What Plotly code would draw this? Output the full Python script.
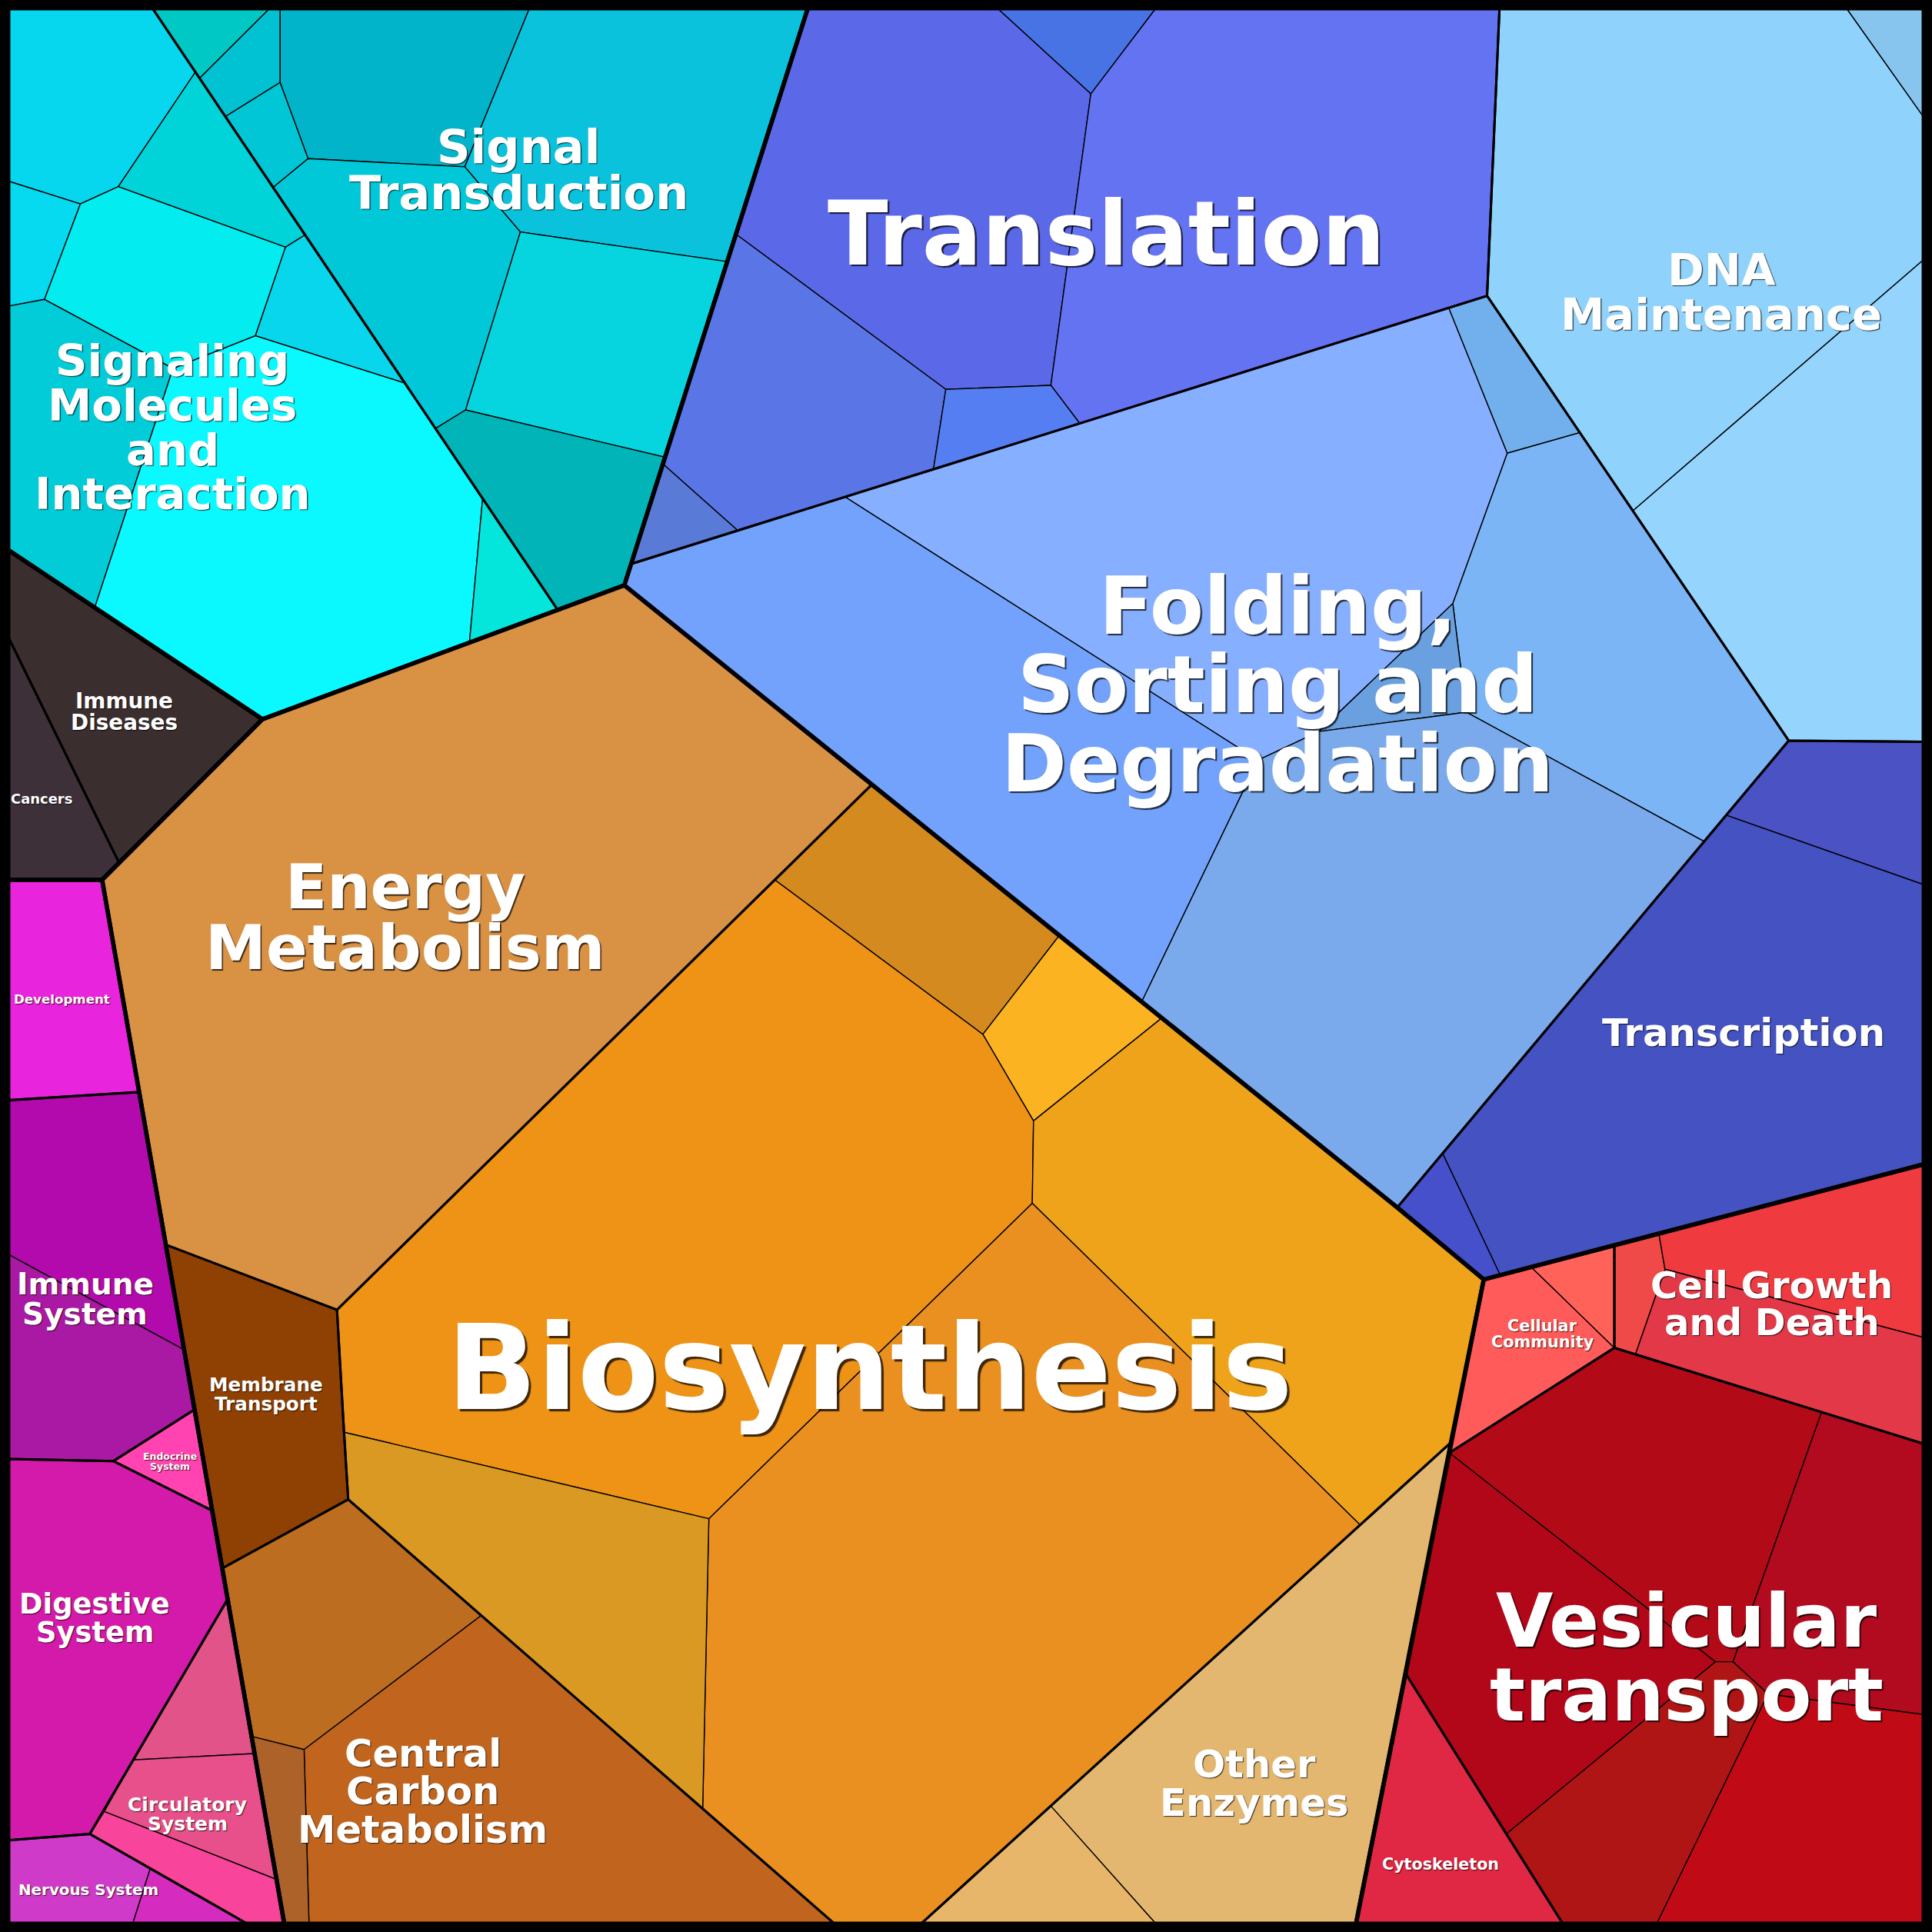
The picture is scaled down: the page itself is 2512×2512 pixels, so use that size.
import plotly.graph_objects as go

L, T, R, B = 6.7, 6.7, 1561.3, 1561.3

# shared cell vertices (chart units, origin top-left)
V = {
 'c_tl': (L, T), 'c_tr': (R, T), 'c_br': (R, B), 'c_bl': (L, B),
 't1': (123.7, T), 't2': (219, T), 't3': (227.4, T), 't4': (429.7, T), 't5': (655.6, T),
 't6': (809.4, T), 't7': (938.1, T), 't8': (1217, T), 't9': (1498.5, T),
 'r1': (R, 95.3), 'r2': (R, 210.7), 'r3': (R, 602), 'r4': (R, 718), 'r5': (R, 944.9),
 'r6': (R, 1085.5), 'r7': (R, 1171.8), 'r8': (R, 1391.5),
 'b1': (200.6, B), 'b2': (107.7, B), 'b3': (230.7, B), 'b4': (250.8, B), 'b5': (677.3, B),
 'b6': (747.5, B), 'b7': (938.1, B), 'b8': (1100.5, B), 'b9': (1268.4, B), 'b10': (1344.6, B),
 'l1': (L, 147), 'l2': (L, 248.5), 'l3': (L, 446.4), 'l4': (L, 517), 'l5': (L, 714.1),
 'l6': (L, 893), 'l7': (L, 1018), 'l8': (L, 1184.1), 'l9': (L, 1493.5),
 's1': (158.6, 58.5), 's2': (96, 151.5), 's3': (65.2, 165.5), 's4': (36.1, 243), 's5': (231.7, 200.6),
 's6': (247.6, 190.6), 's7': (207.3, 272.5), 's8': (140.4, 299), 's9': (328.7, 311), 's10': (391.7, 404.6),
 's11': (381, 521.5), 's12': (452.6, 495.0), 's13': (76.9, 493.1), 's14': (213, 583.7),
 'd1': (162, 63.5), 'd2': (182.9, 94.6), 'd3': (221.6, 152.1), 'd4': (353.5, 347.8),
 'u1': (227.4, 66.9), 'u2': (250.1, 128.7), 'u3': (377.2, 135.4), 'u4': (422.3, 188.3),
 'u5': (590, 212.3), 'u6': (377.9, 332.7), 'u7': (539.4, 371),
 'J1': (512.2, 457.7), 'J2': (506.7, 475),
 'y1': (885.3, 76.2), 'y2': (852.9, 312.7), 'y3': (767.6, 316), 'y4': (597.1, 189.9),
 'y5': (876.3, 343.6), 'y6': (757.6, 380.7), 'y7': (598.7, 430.5), 'y8': (537.7, 376.2),
 'p1': (1206.9, 240.1), 'q1': (1451.7, 601.1), 'z1': (1325.2, 414.6),
 'a1': (685.7, 403.2), 'a2': (1175.8, 249.8), 'a3': (1223.3, 367.8), 'a4': (1179.1, 489.9),
 'a5': (1070.5, 593.7), 'P': (1021, 617), 'a6': (926.4, 813.5), 'a7': (1282.2, 351.1),
 'a8': (1383.1, 682.9), 'Q': (1190, 578), 'a9': (1401, 661.6), 'a10': (1217.6, 1034.9), 'a11': (1170.8, 936.1),
 'g1': (1134, 980), 'g2': (1204.2, 1038.4), 'g3': (1177.5, 1170.8),
 'e1': (707.4, 636.9), 'e2': (628.8, 714.1), 'e3': (273.5, 1063.1), 'e4': (279.2, 1162.4), 'e5': (282.6, 1216.9),
 'f1': (859.5, 759.5), 'f2': (797.7, 839.5), 'f3': (942.5, 826.5), 'f4': (838.8, 909.7),
 'f5': (837.8, 976.6), 'f6': (575.3, 1232.6),
 'h1': (1103.9, 1237.6), 'o1': (852.8, 1465.7), 'i1': (570.3, 1467.9), 'i2': (390.6, 1311.1), 'j1': (246.8, 1419.9),
 'k0': (82.9, 714.1), 'k1': (112.9, 886.3), 'k2': (134.6, 1010.2), 'k3': (149.5, 1095.5), 'k4': (157.9, 1144),
 'k5': (172.2, 1226), 'k6': (180.4, 1272.8), 'k7': (184.8, 1297.8), 'k8': (206.6, 1423.2),
 'k9': (204.1, 1409.2), 'k10': (224.5, 1525.4),
 'n1': (96.5, 700),
 'm1': (92, 1185.8), 'm2': (72.9, 1488.4), 'm3': (108.2, 1428.3), 'm4': (84.6, 1470.2), 'm5': (122, 1516.4),
 'x1': (1242.7, 1028.3), 'x2': (1310.2, 1010.6), 'x3': (1346.3, 1001.2), 'x4': (1310.2, 1093.9),
 'x5': (1351.3, 1030.1), 'x6': (1327.3, 1099.2),
 'w1': (1140.6, 1358), 'w2': (1176.3, 1179.1),
 'v1': (1478.4, 1146.1), 'v2': (1406.5, 1348.7), 'v3': (1392.2, 1348.7), 'v4': (1434.9, 1374.8), 'v5': (1222.6, 1488.4),
}

# leaf cells: (category, colour, vertices)
cells = [
 # Signaling Molecules and Interaction
 ('SMI', '#07D7EE', ['c_tl', 't1', 's1', 's2', 's3', 'l1']),
 ('SMI', '#00D4D8', ['s2', 's1', 's6', 's5']),
 ('SMI', '#05DAF0', ['l1', 's3', 's4', 'l2']),
 ('SMI', '#03ECF0', ['s3', 's2', 's5', 's7', 's8', 's4']),
 ('SMI', '#08D6EC', ['s5', 's6', 's9', 's7']),
 ('SMI', '#02CCD8', ['l2', 's4', 's8', 's13', 'l3']),
 ('SMI', '#0AF8FF', ['s8', 's7', 's9', 's10', 's11', 's14', 's13']),
 ('SMI', '#04E6DC', ['s10', 's12', 's11']),
 # Signal Transduction
 ('ST', '#00C8C4', ['t1', 't2', 'd1']),
 ('ST', '#00C2D2', ['d1', 't2', 't3', 'u1', 'd2']),
 ('ST', '#00C6D6', ['d2', 'u1', 'u2', 'd3']),
 ('ST', '#02B4CA', ['t3', 't4', 'u3', 'u2', 'u1']),
 ('ST', '#0AC2DC', ['t4', 't5', 'u5', 'u4', 'u3']),
 ('ST', '#00C8D8', ['d3', 'u2', 'u3', 'u4', 'u6', 'd4']),
 ('ST', '#06D5E0', ['u4', 'u5', 'u7', 'u6']),
 ('ST', '#00B4B8', ['d4', 'u6', 'u7', 'J1', 'J2', 's12']),
 # Translation
 ('TL', '#4873E5', ['t6', 't7', 'y1']),
 ('TL', '#5B68E8', ['t5', 't6', 'y1', 'y2', 'y3', 'y4']),
 ('TL', '#6473F2', ['y1', 't7', 't8', 'p1', 'y5', 'y2']),
 ('TL', '#5A75E6', ['y4', 'y3', 'y6', 'y7', 'y8']),
 ('TL', '#567EF3', ['y3', 'y2', 'y5', 'y6']),
 ('TL', '#5A7AD8', ['y8', 'y7', 'J1']),
 # DNA Maintenance
 ('DNA', '#87C4EE', ['t9', 'c_tr', 'r1']),
 ('DNA', '#8FD3FC', ['t8', 't9', 'r1', 'r2', 'z1', 'p1']),
 ('DNA', '#94D4FD', ['z1', 'r2', 'r3', 'q1']),
 # Folding, Sorting and Degradation
 ('FSD', '#86AFFF', ['a1', 'a2', 'a3', 'a4', 'a5', 'P']),
 ('FSD', '#72A2FB', ['J1', 'a1', 'P', 'a6', 'J2']),
 ('FSD', '#71B0EC', ['a2', 'p1', 'a7', 'a3']),
 ('FSD', '#7BB5F5', ['a3', 'a7', 'q1', 'a8', 'Q', 'a4']),
 ('FSD', '#6AA0E0', ['a4', 'Q', 'a5']),
 ('FSD', '#7AAAEB', ['P', 'a5', 'Q', 'a8', 'g1', 'a6']),
 # Transcription
 ('TR', '#4B52C3', ['q1', 'r3', 'r4', 'a9']),
 ('TR', '#4452C2', ['a9', 'r4', 'r5', 'a10', 'a11']),
 ('TR', '#4550CA', ['g1', 'a11', 'a10', 'g2']),
 # Energy Metabolism / Membrane Transport
 ('EM', '#D99144', ['k0', 's14', 'J2', 'e1', 'e3', 'k2']),
 ('MT', '#8F4103', ['k2', 'e3', 'e4', 'e5', 'k6']),
 # Biosynthesis
 ('BIO', '#D48A1E', ['e2', 'e1', 'f1', 'f2']),
 ('BIO', '#FCB322', ['f2', 'f1', 'f3', 'f4']),
 ('BIO', '#EE9316', ['e3', 'e2', 'f2', 'f4', 'f5', 'f6', 'e4']),
 ('BIO', '#EEA31A', ['f4', 'f3', 'g1', 'g2', 'g3', 'h1', 'f5']),
 ('BIO', '#EA9020', ['f6', 'f5', 'h1', 'b6', 'b5', 'i1']),
 ('BIO', '#DA9922', ['e4', 'f6', 'i1', 'e5']),
 # Central Carbon Metabolism
 ('CCM', '#BC6D20', ['k6', 'e5', 'i2', 'j1', 'k9']),
 ('CCM', '#C1651E', ['j1', 'i2', 'b5', 'b4']),
 ('CCM', '#AD6229', ['k9', 'j1', 'b4', 'b3']),
 # Other Enzymes
 ('OE', '#E4B770', ['g3', 'b8', 'b7', 'o1', 'h1']),
 ('OE', '#E8B66A', ['o1', 'b7', 'b6']),
 # Human diseases
 ('ID', '#3A2E2E', ['l3', 's13', 's14', 'n1', 'l4']),
 ('CA', '#3D3039', ['l4', 'n1', 'k0', 'l5']),
 # Organismal systems
 ('DEV', '#E824DD', ['l5', 'k0', 'k1', 'l6']),
 ('IS', '#B20AAD', ['l6', 'k1', 'k3', 'l7']),
 ('IS', '#AA19A3', ['l7', 'k3', 'k4', 'm1', 'l8']),
 ('ES', '#FF44B2', ['m1', 'k4', 'k5']),
 ('DS', '#D41AAA', ['l8', 'm1', 'k5', 'k7', 'm2', 'l9']),
 ('CS', '#E2538A', ['k7', 'k8', 'm3']),
 ('CS', '#E7508A', ['m3', 'k8', 'k10', 'm4']),
 ('CS', '#F8449A', ['m4', 'k10', 'b3', 'b1', 'm2']),
 ('NS', '#CF3AC8', ['l9', 'm2', 'm5', 'b2', 'c_bl']),
 ('NS', '#D52BBE', ['m5', 'b1', 'b2']),
 # Cellular processes
 ('CC', '#FF5B5B', ['g2', 'x1', 'x4', 'w2']),
 ('CC', '#FF6259', ['x1', 'x2', 'x4']),
 ('CGD', '#F04A48', ['x2', 'x3', 'x5', 'x6', 'x4']),
 ('CGD', '#EF3A40', ['x3', 'r5', 'r6', 'x5']),
 ('CGD', '#E23848', ['x5', 'r6', 'r7', 'x6']),
 ('VT', '#B30A18', ['w2', 'x4', 'v1', 'v2', 'v3']),
 ('VT', '#B20A1E', ['v1', 'r7', 'r8', 'v4', 'v2']),
 ('VT', '#B20619', ['w2', 'v3', 'v5', 'w1']),
 ('VT', '#B01515', ['v3', 'v2', 'v4', 'b10', 'b9', 'v5']),
 ('VT', '#C00B16', ['v4', 'r8', 'c_br', 'b10']),
 ('CY', '#E02744', ['w1', 'b9', 'b8']),
]

# second-level category outlines
categories = {
 'SMI': ['c_tl', 't1', 's12', 's14', 's13', 'l3'],
 'ST': ['t1', 't5', 'J1', 'J2', 's12'],
 'TL': ['t5', 't8', 'p1', 'J1'],
 'DNA': ['t8', 'c_tr', 'r3', 'q1', 'p1'],
 'FSD': ['J1', 'p1', 'q1', 'g1', 'J2'],
 'TR': ['q1', 'r3', 'r5', 'g2', 'g1'],
 'EM': ['k0', 's14', 'J2', 'e1', 'e3', 'k2'],
 'MT': ['k2', 'e3', 'e4', 'e5', 'k6'],
 'BIO': ['e3', 'e1', 'g1', 'g2', 'g3', 'b6', 'b5', 'e5', 'e4'],
 'CCM': ['k6', 'e5', 'b5', 'b3'],
 'OE': ['g3', 'b8', 'b6'],
 'ID': ['l3', 's13', 's14', 'n1', 'l4'],
 'CA': ['l4', 'n1', 'k0', 'l5'],
 'DEV': ['l5', 'k0', 'k1', 'l6'],
 'IS': ['l6', 'k1', 'k4', 'm1', 'l8'],
 'ES': ['m1', 'k4', 'k5'],
 'DS': ['l8', 'm1', 'k5', 'k7', 'm2', 'l9'],
 'CS': ['k7', 'b3', 'b1', 'm2'],
 'NS': ['l9', 'm2', 'b1', 'c_bl'],
 'CC': ['g2', 'x2', 'x4', 'w2'],
 'CGD': ['x2', 'r5', 'r7', 'x4'],
 'VT': ['w2', 'x4', 'r7', 'c_br', 'b9', 'w1'],
 'CY': ['w1', 'b9', 'b8'],
}

# top-level outlines
top_levels = [
 ['c_tl', 't5', 'J1', 'J2', 's14', 's13', 'l3'],
 ['t5', 'c_tr', 'r5', 'g2', 'g1', 'J2', 'J1'],
 ['s14', 'J2', 'g1', 'g2', 'g3', 'b8', 'b3', 'k0'],
 ['l3', 's13', 's14', 'k0', 'l5'],
 ['l5', 'k0', 'b3', 'c_bl'],
 ['g2', 'r5', 'c_br', 'b8'],
]

# labels: lines, centre x, first-line y, font size (chart units)
labels = [
 (['Signal', 'Transduction'], 421, 119, 37.8),
 (['Translation'], 898, 190, 72),
 (['DNA', 'Maintenance'], 1397, 219, 36),
 (['Signaling', 'Molecules', 'and', 'Interaction'], 140, 293, 36),
 (['Folding,', 'Sorting and', 'Degradation'], 1037, 492, 64),
 (['Transcription'], 1415, 838, 31),
 (['Energy', 'Metabolism'], 329, 720, 49.5),
 (['Biosynthesis'], 706, 1110, 96),
 (['Immune', 'Diseases'], 101, 569, 17.4),
 (['Cancers'], 34, 648, 11.2),
 (['Development'], 50, 811, 10.4),
 (['Immune', 'System'], 69, 1042, 24.4),
 (['Endocrine', 'System'], 138, 1182, 7.8),
 (['Digestive', 'System'], 77, 1302, 23),
 (['Circulatory', 'System'], 152, 1465, 15.6),
 (['Nervous System'], 72, 1534, 12.4),
 (['Membrane', 'Transport'], 216, 1124, 15.4),
 (['Central', 'Carbon', 'Metabolism'], 343, 1423, 31),
 (['Other', 'Enzymes'], 1018, 1432, 31),
 (['Cellular', 'Community'], 1252, 1076, 13),
 (['Cell Growth', 'and Death'], 1438, 1043, 30),
 (['Vesicular', 'transport'], 1369, 1316, 60),
 (['Cytoskeleton'], 1169, 1513, 12.9),
]

PX = 2512 / 1568.0

fig = go.Figure()


def ring(names):
    xs = [V[n][0] for n in names] + [V[names[0]][0]]
    ys = [V[n][1] for n in names] + [V[names[0]][1]]
    return xs, ys


for cat, col, verts in cells:
    xs, ys = ring(verts)
    fig.add_trace(go.Scatter(x=xs, y=ys, mode='lines', fill='toself', fillcolor=col,
                             line=dict(color='black', width=1.4), hoverinfo='skip', showlegend=False))

for name, verts in categories.items():
    xs, ys = ring(verts)
    fig.add_trace(go.Scatter(x=xs, y=ys, mode='lines', line=dict(color='black', width=3.0),
                             hoverinfo='skip', showlegend=False))

for verts in top_levels:
    xs, ys = ring(verts)
    fig.add_trace(go.Scatter(x=xs, y=ys, mode='lines', line=dict(color='black', width=5.5),
                             hoverinfo='skip', showlegend=False))

annotations = []
for lines, cx, y0, fs in labels:
    for i, txt in enumerate(lines):
        annotations.append(dict(
            x=cx, y=y0 + i * fs, xref='x', yref='y', text=txt, showarrow=False,
            xanchor='center', yanchor='middle',
            font=dict(family='DejaVu Sans', size=fs * PX, color='white', weight='bold',
                      shadow='%.1fpx %.1fpx 1px rgba(0,0,0,0.75)' % (max(1.0, fs * PX / 50), max(1.0, fs * PX / 50)))))

fig.update_layout(
    width=2512, height=2512, margin=dict(l=0, r=0, t=0, b=0),
    paper_bgcolor='black', plot_bgcolor='black',
    xaxis=dict(range=[0, 1568], visible=False, showgrid=False, zeroline=False),
    yaxis=dict(range=[1568, 0], visible=False, showgrid=False, zeroline=False),
    annotations=annotations, showlegend=False,
)

fig.write_html('out.html')
